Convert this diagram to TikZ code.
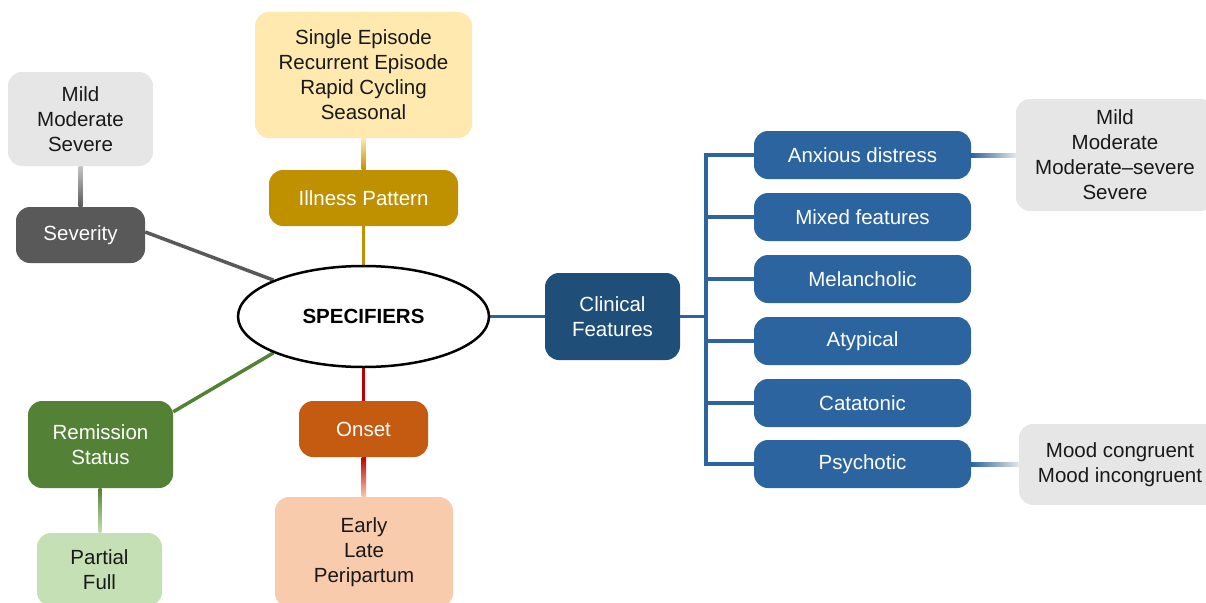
\documentclass[tikz,border=0pt]{standalone}
\usepackage{fontspec}
\setmainfont{Liberation Sans}
\usetikzlibrary{shapes.geometric,calc,backgrounds}
\definecolor{sevD}{HTML}{595959}
\definecolor{greyL}{HTML}{E6E6E6}
\definecolor{goldD}{HTML}{BF9000}
\definecolor{goldL}{HTML}{FFE9AF}
\definecolor{onsD}{HTML}{C55A11}
\definecolor{onsL}{HTML}{F8CBAD}
\definecolor{redL}{HTML}{C00000}
\definecolor{grnD}{HTML}{538135}
\definecolor{grnL}{HTML}{C5E0B4}
\definecolor{cfD}{HTML}{1F4E79}
\definecolor{bluB}{HTML}{2C64A0}
\begin{document}
\begin{tikzpicture}[x=1pt,y=-1pt,
  box/.style={rounded corners=14pt, align=center, inner sep=0pt, font=\fontsize{20.5}{25}\selectfont},
  dark/.style={box, text=white},
  light/.style={box, text=black!90},
  bluebox/.style={dark, fill=bluB, minimum width=217pt, minimum height=48pt},
  conn/.style={line width=3.5pt},
]
\useasboundingbox (0,0) rectangle (1206,602);

% central ellipse
\node[ellipse, draw, line width=2.5pt, fill=white, minimum width=251pt, minimum height=101pt, inner sep=0pt,
      font=\fontsize{20.5}{25}\selectfont\bfseries] (spec) at (363.5,316.5) {SPECIFIERS};

% severity
\node[light, fill=greyL, minimum width=145pt, minimum height=94pt] (sevL) at (80.5,119) {Mild\\Moderate\\Severe};
\node[dark, fill=sevD, minimum width=129pt, minimum height=56pt] (sev) at (80.5,235) {Severity};

% illness pattern
\node[light, fill=goldL, minimum width=217pt, minimum height=126pt] (illL) at (363.5,75) {Single Episode\\Recurrent Episode\\Rapid Cycling\\Seasonal};
\node[dark, fill=goldD, minimum width=189pt, minimum height=56pt] (ill) at (363.5,198) {Illness Pattern};

% onset
\node[dark, fill=onsD, minimum width=129pt, minimum height=56pt] (ons) at (363.5,429) {Onset};
\node[light, fill=onsL, minimum width=178pt, minimum height=110pt] (onsL) at (364,552) {Early\\Late\\Peripartum};

% remission
\node[dark, fill=grnD, minimum width=145pt, minimum height=87pt] (rem) at (100.5,444.5) {Remission\\Status};
\node[light, fill=grnL, minimum width=125pt, minimum height=73pt] (remL) at (99.5,569.5) {Partial\\Full};

% clinical features
\node[dark, fill=cfD, minimum width=135pt, minimum height=87pt] (cf) at (612.5,316.5) {Clinical\\Features};
\node[bluebox] (anx) at (862.5,155) {Anxious distress};
\node[bluebox] (mix) at (862.5,217) {Mixed features};
\node[bluebox] (mel) at (862.5,279) {Melancholic};
\node[bluebox] (aty) at (862.5,341) {Atypical};
\node[bluebox] (cat) at (862.5,403) {Catatonic};
\node[bluebox] (psy) at (862.5,464) {Psychotic};
\node[light, fill=greyL, minimum width=198pt, minimum height=112pt] (anxL) at (1115,155) {Mild\\Moderate\\Moderate\textendash severe\\Severe};
\node[light, fill=greyL, minimum width=202pt, minimum height=81pt] (psyL) at (1120,464.5) {Mood congruent\\Mood incongruent};

\coordinate (busT) at (706,155);
\coordinate (busB) at (706,464);
\coordinate (busM) at (706,316.5);

\begin{scope}[on background layer]
  % main connectors
  \draw[conn, draw=sevD] ($(sev.east)+(0,-3)$) -- (spec.158);
  \draw[conn, draw=goldD] (ill.south) -- (spec.north);
  \draw[conn, draw=redL] (spec.south) -- (ons.north);
  \draw[conn, draw=grnD] ($(rem.north east)+(0,11)$) -- (spec.202);
  \draw[conn, draw=bluB] (spec.east) -- (cf.west);
  \draw[conn, draw=bluB] (cf.east) -- (busM);
  \draw[conn, draw=bluB, line cap=rect] (busT) -- (busB);
  \foreach \b in {anx,mix,mel,aty,cat,psy}{
    \draw[conn, draw=bluB] (busT |- \b.west) -- (\b.west);
  }
  % gradient connectors
  \shade[top color=sevD!35, bottom color=sevD] ($(sevL.south)+(-2,0)$) rectangle ($(sev.north)+(2,0)$);
  \shade[top color=goldL, bottom color=goldD] ($(illL.south)+(-2,0)$) rectangle ($(ill.north)+(2,0)$);
  \shade[top color=redL, bottom color=onsL] ($(ons.south)+(-2,0)$) rectangle ($(onsL.north)+(2,0)$);
  \shade[top color=grnD, bottom color=grnL] ($(rem.south)+(-2,0)$) rectangle ($(remL.north)+(2,0)$);
  \shade[left color=bluB, right color=greyL] ($(anx.east)+(0,-2)$) rectangle ($(anxL.west |- anx.east)+(0,2)$);
  \shade[left color=bluB, right color=greyL] ($(psy.east)+(0,-2)$) rectangle ($(psyL.west |- psy.east)+(0,2)$);
\end{scope}
\end{tikzpicture}
\end{document}
